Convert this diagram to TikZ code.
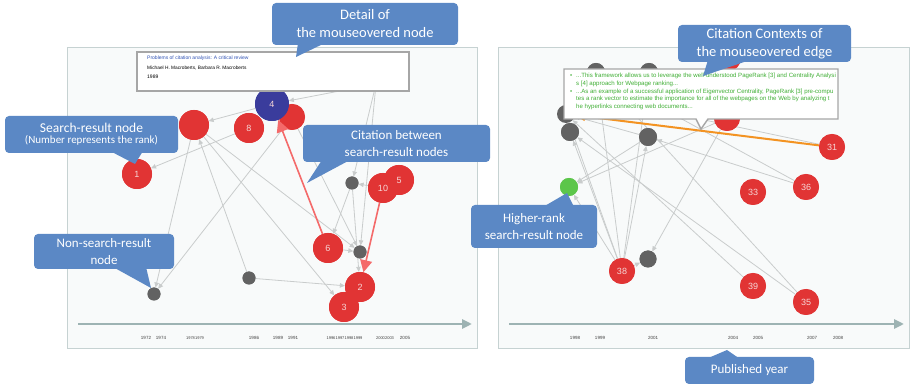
\documentclass[tikz,border=0pt]{standalone}
\usepackage{fontspec}
\setmainfont{Carlito}
\newfontfamily\graphfont{Liberation Sans}
\usetikzlibrary{arrows.meta}
\definecolor{panelfill}{HTML}{F8FAFA}
\definecolor{panelline}{HTML}{C6D2D2}
\definecolor{axiscol}{HTML}{9DB3B3}
\definecolor{edgecol}{HTML}{C9CCCC}
\definecolor{srred}{HTML}{E13434}
\definecolor{nsgray}{HTML}{626262}
\definecolor{hoverblue}{HTML}{3A3C9C}
\definecolor{hiranked}{HTML}{5CC64A}
\definecolor{citered}{HTML}{F46A6A}
\definecolor{ctxorange}{HTML}{F39322}
\definecolor{callblue}{HTML}{5B88C5}
\definecolor{titleblue}{HTML}{3153B4}
\definecolor{ctxgreen}{HTML}{3FAE34}
\definecolor{numtext}{HTML}{F6D6D6}
\definecolor{tipline}{HTML}{A6A6A6}

\begin{document}
\begin{tikzpicture}[x=1pt,y=-1pt,
  panel/.style={draw=panelline,fill=panelfill,line width=1pt},
  timeaxis/.style={draw=axiscol,line width=2.6pt,-{Triangle[length=10pt,width=9pt]}},
  year/.style={font=\graphfont\fontsize{4.5}{5}\selectfont,text=black!75,inner sep=0pt},
  tightyear/.style={year,font=\graphfont\fontsize{4}{5}\selectfont},
  edge/.style={draw=edgecol,line width=0.8pt,-{Triangle[length=5pt,width=4.5pt]}},
  redge/.style={draw=citered,line width=1.6pt,-{Triangle[length=12pt,width=12pt]}},
  oedge/.style={draw=ctxorange,line width=2pt,-{Triangle[length=10pt,width=9pt]}},
  rnode/.style={circle,fill=srred,inner sep=0pt,minimum size=#1,text=numtext,font=\graphfont\fontsize{9}{9}\selectfont},
  rnode/.default=30pt,
  gnode/.style={circle,fill=nsgray,inner sep=0pt,minimum size=#1},
  gnode/.default=13pt,
  bnode/.style={circle,fill=hoverblue,inner sep=0pt,minimum size=34pt,text=numtext,font=\graphfont\fontsize{9}{9}\selectfont},
  hnode/.style={circle,fill=hiranked,inner sep=0pt,minimum size=18pt},
  tipbox/.style={draw=tipline,fill=white,line width=1.4pt},
  tiptext/.style={anchor=base west,inner sep=0pt,font=\graphfont\fontsize{5}{6}\selectfont},
  ctxtext/.style={anchor=base west,inner sep=0pt,text=ctxgreen,font=\graphfont\fontsize{6.1}{7}\selectfont},
  callout/.style={fill=callblue,rounded corners=4pt,text=white,align=center,inner sep=0pt},
  bigtext/.style={font=\fontsize{14.5}{18}\selectfont},
  midtext/.style={font=\fontsize{13}{17}\selectfont},
]
\useasboundingbox (0,0) rectangle (911,387);

% ---------- panels and time axes ----------
\draw[panel] (67,48) rectangle (477,349);
\draw[panel] (498,48) rectangle (909,349);
\coordinate (la0) at (78,324);  \coordinate (la1) at (472,324);
\coordinate (ra0) at (509,324); \coordinate (ra1) at (904,324);
\draw[timeaxis] (la0) -- (la1);
\draw[timeaxis] (ra0) -- (ra1);

% years, left graph
\node[year] at (146,338) {1972};
\node[year] at (161,338) {1974};
\node[tightyear] at (190.5,338) {1978};
\node[tightyear] at (199.5,338) {1979};
\node[year] at (254,338) {1986};
\node[year] at (278,338) {1989};
\node[year] at (293,338) {1991};
\node[tightyear] at (331,338) {1996};
\node[tightyear] at (340,338) {1997};
\node[tightyear] at (349,338) {1998};
\node[tightyear] at (358,338) {1999};
\node[tightyear] at (380.5,338) {2000};
\node[tightyear] at (389.5,338) {2003};
\node[year] at (405,338) {2005};
% years, right graph
\node[year] at (575,338) {1998};
\node[year] at (600,338) {1999};
\node[year] at (653,338) {2001};
\node[year] at (733,338) {2004};
\node[year] at (758,338) {2005};
\node[year] at (812,338) {2007};
\node[year] at (838,338) {2008};

% ---------- left graph: nodes ----------
\coordinate (LH1) at (376,84);
\node[rnode] (L1) at (137,174) {1};
\node[rnode] (LA) at (194,125) {};
\node[rnode] (L8) at (249,128) {8};
\node[rnode=26pt] (L7) at (292,117) {};
\node[bnode] (L4) at (272,104) {4};
\node[rnode] (L5) at (399,180) {5};
\node[rnode] (L10) at (383,188) {10};
\node[gnode] (LG1) at (352,183) {};
\node[rnode] (L6) at (328,248) {6};
\node[gnode] (LG2) at (360,252) {};
\node[rnode] (L2) at (360,287) {2};
\node[rnode] (L3) at (344,307) {3};
\node[gnode] (LG3) at (249,278) {};
\node[gnode] (LG4) at (154,294) {};

% ---------- left graph: citations ----------
\foreach \a/\b in {L8/L1, L4/LA, LG3/LA, LA/LG4, L7/LG4, LA/LG2, LA/L3,
                   LG3/L2, LG1/L6, L10/LG1, LG1/L2, LH1/L4, LH1/LG1,
                   L7/LG2, LH1/LG2, L6/LG2}
  \draw[edge] (\a) -- (\b);
% nodes again, over the edges
\node[rnode] at (L1) {1};
\node[rnode] at (LA) {};
\node[rnode] at (L8) {8};
\node[rnode=26pt] at (L7) {};
\node[bnode] at (L4) {4};
\node[rnode] at (L5) {5};
\node[rnode] at (L10) {10};
\node[gnode] at (LG1) {};
\node[rnode] at (L6) {6};
\node[gnode] at (LG2) {};
\node[rnode] at (L2) {2};
\node[rnode] at (L3) {3};
\node[gnode] at (LG3) {};
\node[gnode] at (LG4) {};
% citations between search-result nodes
\draw[redge] (L6) -- (L4);
\draw[redge] (L10) -- (L2);

% ---------- right graph ----------
\coordinate (RH1) at (610,100);
\node[rnode=26pt] (RR1) at (728,58) {};
\node[gnode=18pt] (RG1) at (596,72) {};
\node[gnode=18pt] (RG2) at (649,72) {};
\node[gnode=18pt] (RG3) at (566,114) {};
\node[gnode=18pt] (RG4) at (570,132) {};
\node[gnode=18pt] (RG5) at (648,137) {};
\node[rnode=26pt] (RR2) at (727,118) {};
\node[rnode=26pt] (R31) at (832,147) {31};
\node[rnode=26pt] (R33) at (753,192) {33};
\node[rnode=26pt] (R36) at (806,187) {36};
\node[hnode] (RGr) at (569,187) {};
\node[rnode=26pt] (R38) at (622,271) {38};
\node[gnode=17pt] (RG6) at (648,259) {};
\node[rnode=26pt] (R39) at (753,286) {39};
\node[rnode=26pt] (R35) at (806,302) {35};

\foreach \a/\b in {R38/RG4, R38/RG3, R38/RG1, R38/RG2, R38/RG5, R38/RGr, R38/RG6,
                   R36/RG1, R36/RG5, R35/RG4, R35/RG1, R39/RG3, RR2/RG6,
                   RG5/RGr, RR2/RGr, R31/RH1, RG5/RG3}
  \draw[edge] (\a) -- (\b);
\draw[oedge] (R31) -- (RG3);
\node[rnode=26pt] at (RR1) {};
\node[gnode=18pt] at (RG1) {};
\node[gnode=18pt] at (RG2) {};
\node[gnode=18pt] at (RG4) {};
\node[gnode=18pt] at (RG5) {};
\node[rnode=26pt] at (RR2) {};
\node[rnode=26pt] at (R31) {31};
\node[rnode=26pt] at (R33) {33};
\node[rnode=26pt] at (R36) {36};
\node[hnode] at (RGr) {};
\node[rnode=26pt] at (R38) {38};
\node[gnode=17pt] at (RG6) {};
\node[rnode=26pt] at (R39) {39};
\node[rnode=26pt] at (R35) {35};

% ---------- hover pop-ups ----------
\draw[tipbox] (137,52) rectangle (409,91);
\node[tiptext,text=titleblue] (ptitle) at (147,59.5) {Problems of citation analysis: A critical review};
\node[tiptext,text=black,font=\graphfont\fontsize{4.8}{6}\selectfont] (pauth) at (147,70) {Michael H. Macroberts, Barbara R. Macroberts};
\node[tiptext,text=black,font=\graphfont\fontsize{5}{6}\selectfont] (pyear) at (147,78.5) {1989};

\path[fill=white] (564,69) -- (838,69) -- (838,119) -- (708,119) -- (701,129) -- (696,119) -- (564,119) -- cycle;
\begin{scope}
  \clip (565,70) rectangle (837,118);
  \node[ctxtext] (b1) at (570,78) {•};
  \node[ctxtext] (c1) at (576,78) {...This framework allows us to leverage the well-understood PageRank [3] and Centrality Analysi};
  \node[ctxtext] (c2) at (576,85.5) {s [4] approach for Webpage ranking...};
  \node[ctxtext] (b2) at (570,93.5) {•};
  \node[ctxtext] (c3) at (576,93.5) {...As an example of a successful application of Eigenvector Centrality, PageRank [3] pre-compu};
  \node[ctxtext] (c4) at (576,101) {tes a rank vector to estimate the importance for all of the webpages on the Web by analyzing t};
  \node[ctxtext] (c5) at (576,108.5) {he hyperlinks connecting web documents...};
\end{scope}
\draw[draw=tipline,line width=1.4pt] (564,69) -- (838,69) -- (838,119) -- (708,119) -- (701,129) -- (696,119) -- (564,119) -- cycle;

% ---------- explanatory callouts ----------
\fill[callblue] (298,43) -- (325,43) -- (296,57) -- cycle;
\node[callout,bigtext,minimum width=186pt,minimum height=42pt] (kDetail) at (365,24) {Detail of\\the mouseovered node};

\fill[callblue] (110,151) -- (143,151) -- (135,164) -- cycle;
\node[callout,minimum width=173pt,minimum height=37pt] (kSearch) at (91.5,134.5)
  {{\fontsize{13.5}{16}\selectfont Search-result node}\\[-1pt]{\fontsize{11}{13}\selectfont (Number represents the rank)}};

\fill[callblue] (322,160) -- (350,160) -- (307,183) -- cycle;
\node[callout,midtext,minimum width=187pt,minimum height=37pt] (kCite) at (396.5,143.5) {Citation between\\search-result nodes};

\fill[callblue] (113,267) -- (146,267) -- (151,288) -- cycle;
\node[callout,midtext,minimum width=140pt,minimum height=35pt] (kNon) at (104,251.5) {Non-search-result\\node};

\fill[callblue] (708,60) -- (750,60) -- (703,76) -- cycle;
\node[callout,bigtext,minimum width=173pt,minimum height=37pt] (kCtx) at (764.5,43.5) {Citation Contexts of\\the mouseovered edge};

\fill[callblue] (543,207) -- (574,207) -- (567,193) -- cycle;
\node[callout,midtext,minimum width=126pt,minimum height=43pt] (kHigh) at (534,226.5) {Higher-rank\\search-result node};

\fill[callblue] (706,359) -- (740,359) -- (727,350) -- cycle;
\node[callout,midtext,minimum width=129pt,minimum height=27pt] (kYear) at (749.5,370.5) {Published year};
\end{tikzpicture}
\end{document}
